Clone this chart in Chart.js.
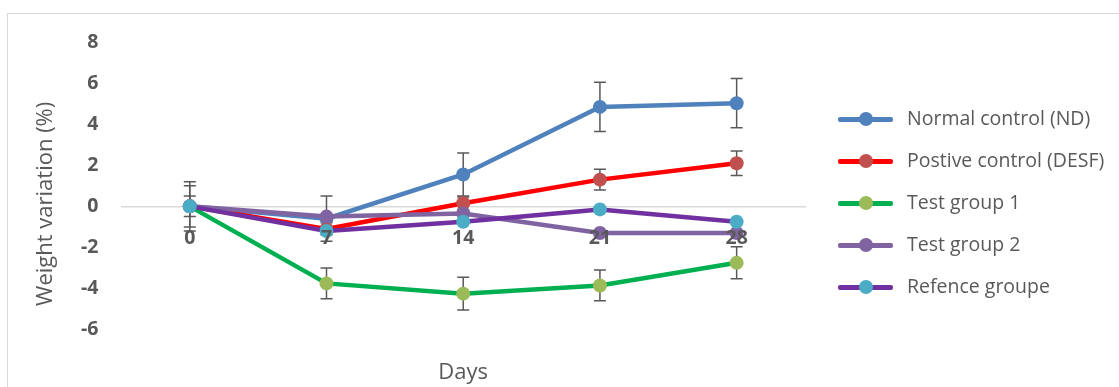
<!DOCTYPE html>
<html>
<head>
<meta charset="utf-8">
<script src="https://cdn.jsdelivr.net/npm/chart.js@4/dist/chart.umd.min.js"></script>
<style>
  body { margin: 0; background: #fff; }
  .frame { position: absolute; left: 7px; top: 13px; width: 1130px; height: 400px; border: 1px solid #d9d9d9; }
  .wrap { position: absolute; left: 0; top: 0; width: 1119px; height: 387px; }
  #legend { position: absolute; left: 838px; top: 98px; font-family: "Open Sans", sans-serif; font-size: 19.5px; color: #595959; }
  .item { position: relative; height: 42px; }
  .item .ln { position: absolute; left: 0; top: 19px; width: 55px; height: 5px; border-radius: 2px; }
  .item .dot { position: absolute; left: 21px; top: 14px; width: 14px; height: 14px; border-radius: 50%; }
  .item .tx { position: absolute; left: 69px; top: 6px; white-space: nowrap; }
</style>
</head>
<body>
<div class="frame"></div>
<div class="wrap"><canvas id="weightChart"></canvas></div>
<div id="legend"></div>
<script>
const days = ['0', '7', '14', '21', '28'];

const normalControl = [0, -0.6, 1.55, 4.84, 5.02];
const positiveControl = [0, -1.1, 0.15, 1.3, 2.1];
const testGroup1 = [0, -3.75, -4.25, -3.85, -2.75];
const testGroup2 = [0, -0.5, -0.35, -1.3, -1.3];
const referenceGroup = [0, -1.2, -0.75, -0.15, -0.75];

// error bar half-lengths (null = none shown)
const normalControlErr = [1.2, 1.1, 1.05, 1.2, 1.2];
const positiveControlErr = [1.0, 0.3, 0.3, 0.5, 0.6];
const testGroup1Err = [0.5, 0.75, 0.8, 0.75, 0.78];

const yTitle = 'Weight variation (%)';
const xTitle = 'Days';

const series = [
  { label: 'Normal control (ND)', data: normalControl, err: normalControlErr, line: '#4f81bd', dot: '#4f81bd' },
  { label: 'Postive control (DESF)', data: positiveControl, err: positiveControlErr, line: '#ff0000', dot: '#c0504d' },
  { label: 'Test group 1', data: testGroup1, err: testGroup1Err, line: '#00b050', dot: '#9bbb59' },
  { label: 'Test group 2', data: testGroup2, err: null, line: '#8064a2', dot: '#8064a2' },
  { label: 'Refence groupe', data: referenceGroup, err: null, line: '#7030a0', dot: '#4bacc6' }
];

const errorBars = {
  id: 'errorBars',
  beforeDatasetsDraw(chart) {
    const ctx = chart.ctx;
    const x = chart.scales.x;
    const y = chart.scales.y;
    ctx.save();
    ctx.strokeStyle = '#595959';
    ctx.lineWidth = 1.5;
    series.forEach(s => {
      if (!s.err) return;
      s.data.forEach((v, i) => {
        const e = s.err[i];
        if (e == null) return;
        const px = x.getPixelForValue(i);
        const top = y.getPixelForValue(v + e);
        const bot = y.getPixelForValue(v - e);
        ctx.beginPath();
        ctx.moveTo(px, top); ctx.lineTo(px, bot);
        ctx.moveTo(px - 6, top); ctx.lineTo(px + 6, top);
        ctx.moveTo(px - 6, bot); ctx.lineTo(px + 6, bot);
        ctx.stroke();
      });
    });
    ctx.restore();
  }
};

// y title sits a bit below the middle of the axis, like the original
const yAxisTitle = {
  id: 'yAxisTitle',
  afterDraw(chart) {
    const { ctx, chartArea } = chart;
    ctx.save();
    ctx.translate(46, (chartArea.top + chartArea.bottom) / 2 + 18);
    ctx.rotate(-Math.PI / 2);
    ctx.font = '22px "Open Sans", sans-serif';
    ctx.fillStyle = '#595959';
    ctx.textAlign = 'center';
    ctx.textBaseline = 'middle';
    ctx.fillText(yTitle, 0, 0);
    ctx.restore();
  }
};

const tickFont = { family: '"Open Sans", sans-serif', size: 19.5, weight: 'bold' };
const titleFont = { family: '"Open Sans", sans-serif', size: 22, weight: 'normal' };

const config = {
  type: 'line',
  data: {
    labels: days,
    datasets: series.map((s, i) => ({
      label: s.label,
      data: s.data,
      borderColor: s.line,
      backgroundColor: s.dot,
      pointBackgroundColor: s.dot,
      pointBorderColor: s.dot,
      borderWidth: 4.5,
      pointRadius: 7,
      pointBorderWidth: 0,
      tension: 0,
      order: series.length - i
    }))
  },
  options: {
    responsive: true,
    maintainAspectRatio: false,
    animation: false,
    layout: { padding: { left: 66, right: 314, top: 42, bottom: 1 } },
    plugins: {
      legend: { display: false },
      tooltip: { enabled: false },
      title: {
        display: true,
        text: xTitle,
        position: 'bottom',
        fullSize: false,
        color: '#595959',
        font: titleFont,
        padding: { top: 30, bottom: 0 }
      }
    },
    scales: {
      x: {
        type: 'category',
        offset: true,
        position: { y: 0 },
        grid: { display: false },
        border: { display: true, color: '#d9d9d9', width: 1.5 },
        // labels drawn above the lines, as in the original
        ticks: { color: '#595959', font: tickFont, padding: 12, maxRotation: 0, z: 1 }
      },
      y: {
        min: -6,
        max: 8,
        grid: { display: false },
        border: { display: false },
        ticks: { stepSize: 2, color: '#595959', font: tickFont, padding: 15 }
      }
    }
  },
  plugins: [errorBars, yAxisTitle]
};

const canvas = document.getElementById('weightChart');
new Chart(canvas.getContext('2d'), config);

const legendEl = document.getElementById('legend');
series.forEach(s => {
  const item = document.createElement('div');
  item.className = 'item';
  item.innerHTML = '<div class="ln" style="background:' + s.line + '"></div>' +
    '<div class="dot" style="background:' + s.dot + '"></div>' +
    '<div class="tx"></div>';
  item.querySelector('.tx').textContent = s.label;
  legendEl.appendChild(item);
});
</script>
</body>
</html>
